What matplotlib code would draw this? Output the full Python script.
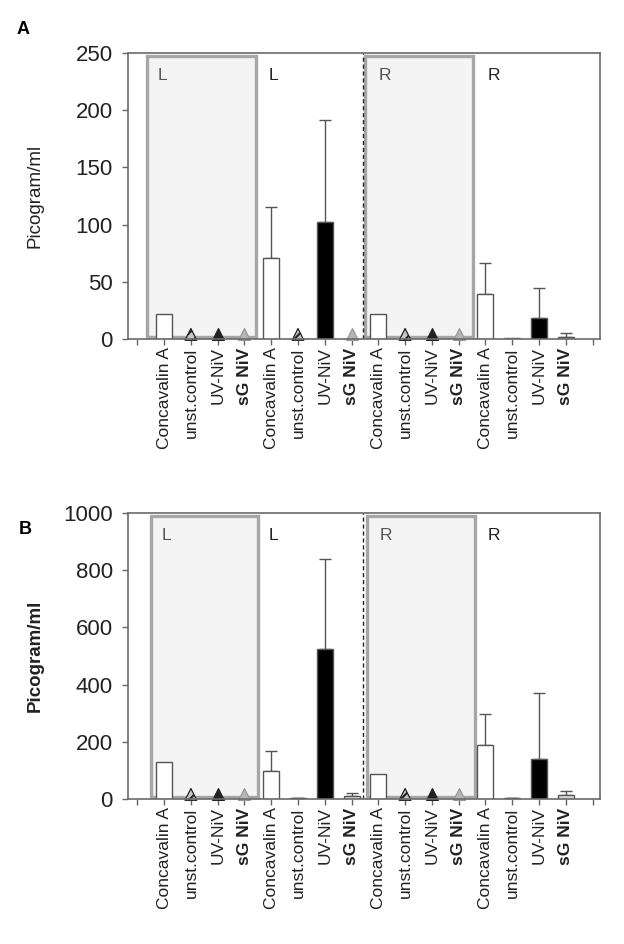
import matplotlib
matplotlib.use("Agg")
import matplotlib.pyplot as plt
from matplotlib.patches import Rectangle
from matplotlib.transforms import offset_copy, blended_transform_factory

plt.rcParams['font.family'] = ['Liberation Sans', 'DejaVu Sans']
plt.rcParams['hatch.linewidth'] = 1.5

# ---------------- data ----------------
treatments = ["Concavalin A", "unst.control", "UV-NiV", "sG NiV"]
groups = ["L (shaded)", "L", "R (shaded)", "R"]
labels = treatments * 4
group_letters = ["L", "L", "R", "R"]

# Panel A values / upper errors (pg/ml); not-detected points drawn as triangles
values_A = [22, 0, 0, 0,   71, 0, 102, 0,   22, 0, 0, 0,   39, 0.5, 18, 1.5]
errors_A = [0, 0, 0, 0,    44, 0, 89, 0,    0, 0, 0, 0,    27, 0, 27, 3.5]
nd_A     = [False, True, True, True,  False, True, False, True,
            False, True, True, True,  False, False, False, False]

values_B = [130, 0, 0, 0,   98, 3, 524, 10,   86, 0, 0, 0,   189, 3, 141, 15]
errors_B = [0, 0, 0, 0,     70, 2, 316, 12,   0, 0, 0, 0,    107, 2, 229, 14]
nd_B     = [False, True, True, True,  False, False, False, False,
            False, True, True, True,  False, False, False, False]

ylim_A, yticks_A = 250, [0, 50, 100, 150, 200, 250]
ylim_B, yticks_B = 1000, [0, 200, 400, 600, 800, 1000]

# ---------------- styles ----------------
bar_face = {"Concavalin A": "white", "unst.control": "white",
            "UV-NiV": "black", "sG NiV": "#dcdcdc"}
bar_hatch = {"Concavalin A": None, "unst.control": "/////",
             "UV-NiV": None, "sG NiV": None}
tri_face = {"unst.control": "#c8c8c8", "UV-NiV": "#222222", "sG NiV": "#b4b4b4"}
tri_edge = {"unst.control": "#222222", "UV-NiV": "#222222", "sG NiV": "#999999"}
tri_hatch = {"unst.control": "///", "UV-NiV": None, "sG NiV": None}

fig = plt.figure(figsize=(6.24, 9.44), dpi=100)

def draw_panel(rect, values, errors, nd, ymax, yticks, letter, boxes, dash_x,
               ylabel_bold, letter_xy):
    ax = fig.add_axes(rect)
    n = len(labels)
    xs = list(range(1, n + 1))
    ax.set_xlim(-0.35, 17.28)
    ax.set_ylim(0, ymax)

    tr = blended_transform_factory(ax.transData, ax.transAxes)
    # shaded boxes
    for (x0, x1) in boxes:
        ax.add_patch(Rectangle((x0, 0.008), x1 - x0, 0.982, transform=tr,
                               facecolor="#f4f4f4", edgecolor="#a6a6a6",
                               linewidth=2.4, zorder=1))
    ax.plot([dash_x, dash_x], [0, 1], transform=tr, color="#222222",
            linestyle=(0, (3, 2)), linewidth=1.0, zorder=2)

    tri_tr = offset_copy(ax.transData, fig=fig, x=0, y=4.6, units='dots')
    for i, (x, lab) in enumerate(zip(xs, labels)):
        if nd[i]:
            ax.scatter([x], [values[i]], marker="^", s=72,
                       facecolor=tri_face[lab], edgecolor=tri_edge[lab],
                       hatch=tri_hatch[lab], linewidth=0.9, zorder=4,
                       transform=tri_tr, clip_on=False)
        else:
            ax.bar(x, values[i], width=0.6, color=bar_face[lab],
                   edgecolor="#555555", linewidth=1.0,
                   hatch=bar_hatch[lab], zorder=3)
            if errors[i] > 0:
                ax.errorbar(x, values[i], yerr=[[0], [errors[i]]], fmt="none",
                            ecolor="#555555", elinewidth=1.0, capsize=4.5,
                            capthick=1.0, zorder=2.5)

    # group letters
    letter_pos = [boxes[0][0] + 0.4, 4.9, boxes[1][0] + 0.5, 13.1]
    for lx, gl, shaded in zip(letter_pos, group_letters, [True, False, True, False]):
        ax.text(lx, 0.92, gl, transform=tr, fontsize=12.5,
                color="#555555" if shaded else "#222222",
                ha="left", va="center", zorder=5)

    ax.set_xticks(list(range(0, n + 2)))
    ax.set_xticklabels([""] + labels + [""], rotation=90, fontsize=12.5,
                       ha="center", va="top")
    for t, lab in zip(ax.get_xticklabels()[1:-1], labels):
        if lab == "sG NiV":
            t.set_fontweight("bold")
    ax.set_yticks(yticks)
    ax.set_yticklabels([str(v) for v in yticks], fontsize=16)
    ax.tick_params(axis="x", direction="out", length=4, width=1,
                   color="#666666", pad=2, labelcolor="#222222")
    ax.tick_params(axis="y", direction="out", length=4, width=1,
                   color="#666666", pad=7, labelcolor="#222222")
    for sp in ax.spines.values():
        sp.set_color("#6a6a6a")
        sp.set_linewidth(1.2)
        sp.set_zorder(6)
    ax.set_ylabel("Picogram/ml", fontsize=13.5,
                  fontweight="bold" if ylabel_bold else "normal",
                  color="#222222")
    ax.yaxis.set_label_coords(-0.178, 0.5)
    fig.text(letter_xy[0] / 624, 1 - letter_xy[1] / 944, letter,
             fontsize=13, fontweight="bold", ha="center", va="center")
    return ax

draw_panel([128 / 624, 1 - 339 / 944, 472 / 624, 286 / 944],
           values_A, errors_A, nd_A, ylim_A, yticks_A, "A",
           boxes=[(0.36, 4.42), (8.5, 12.55)], dash_x=8.43,
           ylabel_bold=False, letter_xy=(23, 30))
draw_panel([128 / 624, 1 - 799 / 944, 472 / 624, 286 / 944],
           values_B, errors_B, nd_B, ylim_B, yticks_B, "B",
           boxes=[(0.5, 4.52), (8.56, 12.6)], dash_x=8.44,
           ylabel_bold=True, letter_xy=(25, 529))

fig.savefig("out.png", dpi=100)
